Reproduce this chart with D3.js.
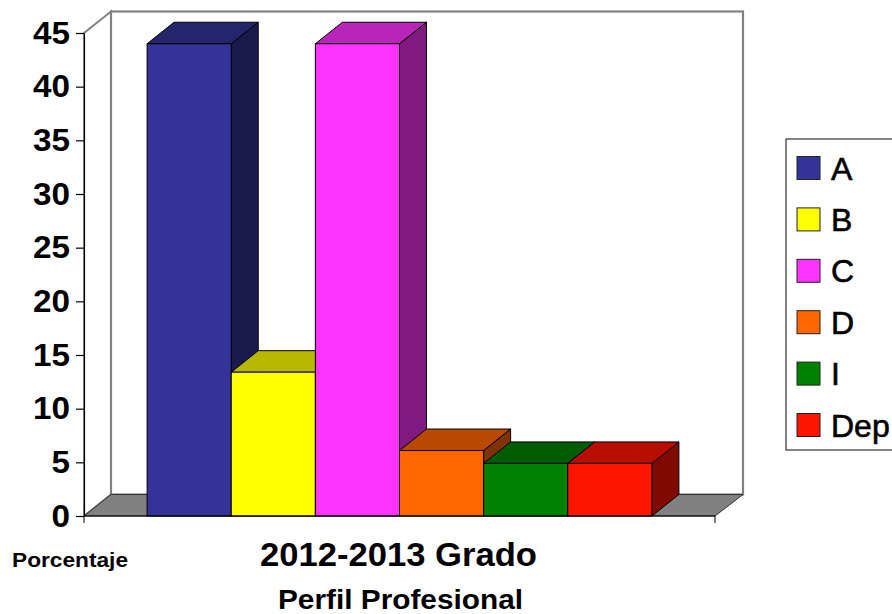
<!DOCTYPE html>
<html>
<head>
<meta charset="utf-8">
<script src="https://cdn.jsdelivr.net/npm/d3@7"></script>
<style>
  html, body { margin: 0; padding: 0; background: #fff; }
  svg { display: block; font-family: "Liberation Sans", Arial, sans-serif; }
</style>
</head>
<body>
<svg id="chart" width="892" height="614"></svg>
<script>
// ---- data ----
const categories = ["A", "B", "C", "D", "I", "Dep"];
const values = [44, 13.4, 44, 6.1, 4.9, 4.9];
const yTicks = [0, 5, 10, 15, 20, 25, 30, 35, 40, 45];
const groupLabel = "2012-2013 Grado";
const chartTitle = "Perfil Profesional";
const yLabel = "Porcentaje";
const colors = ["#333399", "#ffff00", "#ff33ff", "#ff6600", "#008000", "#ff1400"];

// ---- layout ----
(function () {
const svg = d3.select("#chart");
const plotLeft = 84, plotRight = 715, plotBottom = 516, plotTop = 33;
const dx = 27, dy = -21.5;

const y = d3.scaleLinear().domain([0, 45]).range([plotBottom, plotTop]);
const xOuter = d3.scaleBand().domain([groupLabel]).range([plotLeft, plotRight])
  .paddingInner(0).paddingOuter(0.125);
const xInner = d3.scaleBand().domain(categories)
  .range([xOuter(groupLabel), xOuter(groupLabel) + xOuter.bandwidth()]);

const shade = (c, k) => { const r = d3.rgb(c); return d3.rgb(r.r * k, r.g * k, r.b * k).formatHex(); };
const poly = pts => pts.map(p => p.join(",")).join(" ");

const y0 = y(0), yTop = y(45);
const xl = xOuter.range()[0], xr = xOuter.range()[1];

// left wall
svg.append("polygon")
  .attr("points", poly([[xl, yTop], [xl + dx, yTop + dy], [xl + dx, y0 + dy], [xl, y0]]))
  .attr("fill", "#fff").attr("stroke", "#808080").attr("stroke-width", 2);
// back wall
svg.append("rect")
  .attr("x", xl + dx).attr("y", yTop + dy)
  .attr("width", (xr + dx + 1) - (xl + dx)).attr("height", y0 - yTop)
  .attr("fill", "#fff").attr("stroke", "#808080").attr("stroke-width", 2.2);
// floor
svg.append("polygon")
  .attr("points", poly([[xl, y0], [xl + dx, y0 + dy], [xr + dx + 1, y0 + dy], [xr, y0]]))
  .attr("fill", "#808080").attr("stroke", "#333").attr("stroke-width", 1);

// bars
const g = svg.append("g");
categories.forEach((c, i) => {
  const x0 = xInner(c), x1 = x0 + xInner.bandwidth();
  const yt = y(values[i]);
  const col = colors[i];
  g.append("polygon")
    .attr("points", poly([[x1, yt], [x1 + dx, yt + dy], [x1 + dx, y0 + dy], [x1, y0]]))
    .attr("fill", shade(col, 0.5)).attr("stroke", "#000").attr("stroke-width", 1);
  g.append("polygon")
    .attr("points", poly([[x0, yt], [x0 + dx, yt + dy], [x1 + dx, yt + dy], [x1, yt]]))
    .attr("fill", shade(col, 0.72)).attr("stroke", "#000").attr("stroke-width", 1);
  g.append("rect")
    .attr("x", x0).attr("y", yt).attr("width", x1 - x0).attr("height", y0 - yt)
    .attr("fill", col).attr("stroke", "#000").attr("stroke-width", 1);
});

// front floor edge
svg.append("line").attr("x1", xl).attr("x2", xr).attr("y1", y0).attr("y2", y0)
  .attr("stroke", "#000").attr("stroke-width", 1.2);
xOuter.range().forEach(xv => {
  svg.append("line").attr("x1", xv).attr("x2", xv).attr("y1", y0).attr("y2", y0 + 7)
    .attr("stroke", "#000").attr("stroke-width", 1);
});

// y axis
const sx = 1.04;
const ax = svg.append("g").attr("transform", `translate(${plotLeft},0)`)
  .call(d3.axisLeft(y).tickValues(yTicks).tickSize(8).tickSizeOuter(0).tickPadding(6));
ax.select(".domain").attr("stroke", "#000").attr("stroke-width", 1.2);
ax.selectAll(".tick line").attr("stroke", "#000").attr("stroke-width", 1.2);
ax.selectAll(".tick text")
  .attr("x", -14 / sx)
  .attr("transform", `scale(${sx},1)`)
  .attr("font-size", 32).attr("font-weight", "bold")
  .attr("font-family", "Liberation Sans, Arial, sans-serif").attr("fill", "#000");

// labels
svg.append("text").attr("x", 260).attr("y", 566)
  .attr("textLength", 277).attr("lengthAdjust", "spacingAndGlyphs")
  .attr("font-size", 33).attr("font-weight", "bold").text(groupLabel);
svg.append("text").attr("x", 278).attr("y", 609)
  .attr("textLength", 245).attr("lengthAdjust", "spacingAndGlyphs")
  .attr("font-size", 28).attr("font-weight", "bold").text(chartTitle);
svg.append("text").attr("x", 12).attr("y", 567)
  .attr("textLength", 116).attr("lengthAdjust", "spacingAndGlyphs")
  .attr("font-size", 20).attr("font-weight", "bold").text(yLabel);

// legend
const lg = svg.append("g");
lg.append("rect").attr("x", 786).attr("y", 139).attr("width", 160).attr("height", 311)
  .attr("fill", "#fff").attr("stroke", "#333").attr("stroke-width", 1.2);
const ly = d3.scalePoint().domain(categories).range([168, 425]);
categories.forEach((c, i) => {
  lg.append("rect").attr("x", 797).attr("y", ly(c) - 11.5).attr("width", 23).attr("height", 23)
    .attr("fill", colors[i]).attr("stroke", "#222").attr("stroke-width", 1);
  lg.append("text").attr("x", 831).attr("y", ly(c) + 11.5)
    .attr("font-size", 32).attr("fill", "#000")
    .attr("stroke", "#000").attr("stroke-width", 0.6).text(c);
});
})();
</script>
</body>
</html>
